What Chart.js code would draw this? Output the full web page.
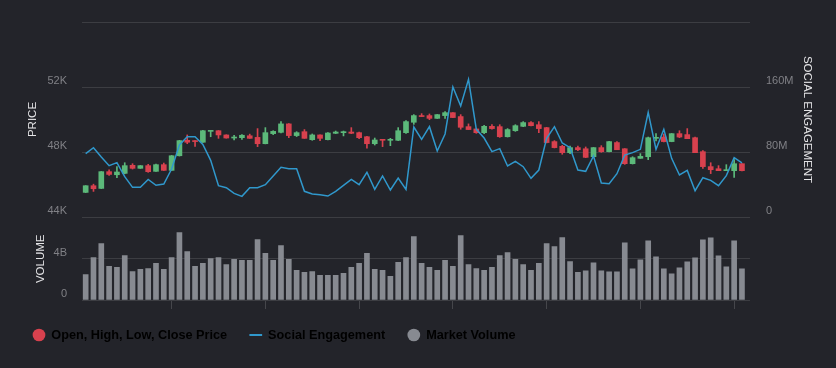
<!DOCTYPE html>
<html>
<head>
<meta charset="utf-8">
<script src="https://cdn.jsdelivr.net/npm/chart.js@4.4.1/dist/chart.umd.min.js"></script>
<style>
  html, body { margin: 0; padding: 0; background: #23242a; }
  #wrap { position: relative; width: 836px; height: 368px; }
  #priceBox { position: absolute; left: 0; top: 0; width: 836px; height: 230px; }
  #volumeBox { position: absolute; left: 0; top: 211px; width: 836px; height: 157px; }
</style>
</head>
<body>
<div id="wrap">
  <div id="priceBox"><canvas id="priceChart"></canvas></div>
  <div id="volumeBox"><canvas id="volumeChart"></canvas></div>
</div>
<script>
// daily candles
var opens = [45515, 45925, 45760, 46790, 46600, 46685, 47180, 46995, 47160, 46810,
  47220, 46870, 47770, 48720, 48680, 48600, 49270, 49310, 49050, 48860,
  48880, 49000, 48900, 48510, 49130, 49210, 49730, 49010, 49250, 48760,
  49050, 48760, 49150, 49190, 49230, 49190, 48940, 48510, 48760, 48720,
  48720, 49190, 49830, 50240, 50240, 50070, 50240, 50420, 50180, 49560,
  49420, 49190, 49580, 49560, 48940, 49310, 49580, 49810, 49680, 49500,
  48640, 48350, 47960, 48270, 48200, 47710, 48270, 48020, 48580, 48200,
  47280, 47610, 47710, 48840, 48920, 48640, 49130, 49070, 48880, 48020,
  47100, 46970, 46850, 46850, 47280];
var highs = [45930, 46020, 46800, 46910, 47100, 47340, 47280, 47170, 47240, 47260,
  47320, 47790, 48720, 49050, 48700, 49330, 49310, 49320, 49060, 49030,
  49070, 49100, 49440, 49500, 49310, 49870, 49750, 49250, 49380, 49110,
  49050, 49190, 49290, 49290, 49500, 49230, 48960, 48860, 48760, 48840,
  49500, 49930, 50300, 50360, 50340, 50310, 50490, 50430, 50300, 49730,
  49420, 49640, 49680, 49680, 49440, 49680, 49870, 49870, 49870, 49520,
  48700, 48410, 48370, 48370, 48310, 48280, 48390, 48650, 48640, 48210,
  47710, 47900, 48920, 49130, 49110, 49140, 49310, 49440, 48920, 48080,
  47340, 47160, 47220, 47530, 47290];
var lows = [45500, 45575, 45750, 46560, 46420, 46660, 46950, 46990, 46750, 46800,
  46860, 46860, 47750, 48510, 48350, 48590, 48940, 48840, 48850, 48740,
  48780, 48840, 48330, 48500, 49070, 49170, 48880, 48950, 48840, 48720,
  48700, 48740, 49130, 48990, 49130, 48820, 48230, 48430, 48330, 48390,
  48700, 49150, 49700, 50180, 49990, 50060, 50070, 50110, 49400, 49380,
  49150, 49130, 49400, 48900, 48920, 49270, 49560, 49600, 49190, 48560,
  48250, 47860, 47900, 48080, 47650, 47700, 47980, 48010, 48140, 47240,
  47260, 47610, 47530, 48680, 48620, 48630, 48880, 48820, 47960, 46990,
  46670, 46850, 46850, 46440, 46840];
var closes = [45925, 45740, 46790, 46620, 46770, 47160, 46995, 47160, 46790, 47220,
  46870, 47770, 48700, 48600, 48640, 49310, 49310, 49050, 48860, 48920,
  49030, 48840, 48510, 49190, 49270, 49730, 49010, 49190, 48840, 49050,
  48840, 49170, 49230, 49230, 49150, 48880, 48510, 48740, 48720, 48760,
  49310, 49870, 50240, 50180, 50070, 50300, 50420, 50120, 49520, 49380,
  49190, 49580, 49440, 48940, 49380, 49620, 49810, 49620, 49440, 48580,
  48270, 47960, 48270, 48140, 47670, 48270, 48020, 48640, 48140, 47280,
  47650, 47730, 48880, 48880, 48640, 49130, 48920, 48820, 47960, 47100,
  46910, 46850, 46910, 47280, 46850];

// social engagement, millions
var engagement = [77.9, 85.3, 73.8, 63.2, 66.9, 49.6, 36.5, 36.5, 46.3, 39,
  40.5, 59.1, 88.6, 98.9, 98.9, 89.4, 69.7, 38.6, 36.1, 29.1,
  25.4, 36.1, 36.1, 39.8, 50.5, 61.1, 59.5, 59.5, 31.6, 28.3,
  27.5, 25.8, 31.6, 39, 46.3, 39.8, 55, 34, 50.5, 33.2,
  48, 34, 110.8, 95.6, 111.2, 81.2, 102.2, 160, 136.6, 169.4,
  107.9, 97.2, 80.4, 84.1, 62.8, 68.5, 61.9, 47.6, 57.8, 96.8,
  111.2, 91.1, 85.3, 57.8, 56.2, 75.1, 41.8, 41, 53.3, 76.3,
  79.2, 83.3, 128.8, 83.3, 107.9, 72.2, 51.7, 57.4, 32.4, 48.4,
  45.1, 38.6, 50.9, 73, 66.5];

// market volume, billions
var volume = [2.48, 4.13, 5.48, 3.26, 3.16, 4.32, 2.77, 2.97, 3.06, 3.55,
  2.97, 4.13, 6.55, 4.71, 3.26, 3.55, 4.03, 4.13, 3.45, 3.94,
  3.84, 3.84, 5.87, 4.52, 3.84, 5.29, 3.94, 2.87, 2.68, 2.77,
  2.39, 2.39, 2.39, 2.58, 3.16, 3.55, 4.52, 2.97, 2.87, 2.29,
  3.65, 4.13, 6.16, 3.55, 3.16, 2.87, 3.84, 3.26, 6.26, 3.45,
  3.06, 2.87, 3.16, 4.32, 4.61, 3.94, 3.45, 2.87, 3.55, 5.48,
  5.19, 6.06, 3.74, 2.68, 2.84, 3.61, 2.84, 2.74, 2.74, 5.55,
  3.03, 3.90, 5.74, 4.19, 3.03, 2.55, 3.13, 3.71, 4.10, 5.84,
  6.03, 4.29, 3.23, 5.74, 3.03];

var priceTicks = [44000, 48000, 52000, 56000];
var priceTickLabels = ['44K', '48K', '52K', ''];
var engagementTicks = [0, 80, 160, 240];
var engagementTickLabels = ['0', '80M', '160M', ''];
var volumeTicks = [0, 4, 8];
var volumeTickLabels = ['0', '4B', ''];
var dateTickIndex = [5, 17, 29, 41, 53, 65, 77];
var legendNames = ['Open, High, Low, Close Price', 'Social Engagement', 'Market Volume'];

var upColor = '#5cb97a';
var downColor = '#d8414e';
var lineColor = '#3098cc';
var volColor = '#878a91';
var gridColor = '#3c3d42';
var tickColor = '#808186';
var titleColor = '#e4e4e6';
var clear = 'rgba(0,0,0,0)';

var X_MIN = -0.47;
var X_MAX = 85.03;

Chart.defaults.font.family = '"Liberation Sans", Arial, sans-serif';
Chart.defaults.animation = false;

var idx = closes.map(function (c, i) { return i; });
var wickData = idx.map(function (i) { return { x: i, y: [lows[i], highs[i]] }; });
var bodyData = idx.map(function (i) { return { x: i, y: [opens[i], closes[i]] }; });
var candleColors = idx.map(function (i) { return closes[i] >= opens[i] ? upColor : downColor; });
var engData = idx.map(function (i) { return { x: i, y: engagement[i] }; });
var volData = idx.map(function (i) { return { x: i, y: volume[i] }; });

function setTicks(values) {
  return function (axis) {
    axis.ticks = values.map(function (v) { return { value: v }; });
  };
}

new Chart(document.getElementById('priceChart'), {
  type: 'bar',
  data: {
    datasets: [{
      type: 'line',
      label: 'Social Engagement',
      data: engData,
      yAxisID: 'yEng',
      borderColor: lineColor,
      borderWidth: 1.5,
      pointRadius: 0,
      tension: 0,
      order: 0
    }, {
      label: 'wick',
      data: wickData,
      yAxisID: 'yPrice',
      backgroundColor: candleColors,
      barThickness: 1,
      grouped: false,
      order: 2
    }, {
      label: 'body',
      data: bodyData,
      yAxisID: 'yPrice',
      backgroundColor: candleColors,
      barThickness: 5,
      minBarLength: 1,
      grouped: false,
      order: 1
    }]
  },
  options: {
    responsive: true,
    maintainAspectRatio: false,
    layout: { padding: { top: 22, bottom: 13, left: 0, right: 0 } },
    plugins: { legend: { display: false }, tooltip: { enabled: false } },
    scales: {
      x: { type: 'linear', display: false, min: X_MIN, max: X_MAX, offset: false },
      yPrice: {
        position: 'left',
        min: 44000,
        max: 56000,
        afterBuildTicks: setTicks(priceTicks),
        afterFit: function (s) { s.width = 82; },
        ticks: {
          color: tickColor, font: { size: 11 }, padding: 0, labelOffset: -6,
          callback: function (v, i) { return priceTickLabels[i]; }
        },
        grid: { color: gridColor, drawTicks: true, tickLength: 15, tickColor: clear },
        border: { display: false },
        title: { display: true, text: 'PRICE', color: titleColor, font: { size: 11.5 }, padding: { top: 26, bottom: 0 } }
      },
      yEng: {
        position: 'right',
        min: 0,
        max: 240,
        afterBuildTicks: setTicks(engagementTicks),
        afterFit: function (s) { s.width = 86; },
        ticks: {
          color: tickColor, font: { size: 11 }, padding: 0, labelOffset: -6,
          callback: function (v, i) { return engagementTickLabels[i]; }
        },
        grid: { drawOnChartArea: false, drawTicks: true, tickLength: 16, tickColor: clear },
        border: { display: false },
        title: { display: true, text: 'SOCIAL ENGAGEMENT', color: titleColor, font: { size: 11.5 }, padding: { top: 22, bottom: 0 } }
      }
    }
  }
});

new Chart(document.getElementById('volumeChart'), {
  type: 'bar',
  data: {
    datasets: [{
      label: 'Market Volume',
      data: volData,
      backgroundColor: volColor,
      barThickness: 5
    }]
  },
  options: {
    responsive: true,
    maintainAspectRatio: false,
    layout: { padding: { top: 0, bottom: 16.65, left: 10.35, right: 86 } },
    plugins: {
      tooltip: { enabled: false },
      legend: {
        position: 'bottom',
        align: 'start',
        onClick: function () {},
        labels: {
          usePointStyle: true,
          boxWidth: 12,
          boxHeight: 9,
          padding: 22.65,
          color: '#9a9ba0',
          font: { size: 12.7, weight: 'bold' },
          generateLabels: function () {
            var cols = [downColor, lineColor, volColor];
            var styles = ['circle', 'line', 'circle'];
            return legendNames.map(function (name, i) {
              return {
                text: name,
                fillStyle: cols[i],
                strokeStyle: cols[i],
                lineWidth: styles[i] === 'line' ? 2 : 0,
                pointStyle: styles[i],
                hidden: false,
                datasetIndex: 0
              };
            });
          }
        }
      }
    },
    scales: {
      x: {
        type: 'linear',
        min: X_MIN,
        max: X_MAX,
        offset: false,
        afterBuildTicks: setTicks(dateTickIndex),
        afterFit: function (s) { s.height = 6; },
        ticks: { display: false },
        grid: { drawOnChartArea: false, drawTicks: true, tickLength: 9, color: gridColor, tickColor: '#45464b' },
        border: { display: false }
      },
      y: {
        position: 'left',
        min: 0,
        max: 8,
        afterBuildTicks: setTicks(volumeTicks),
        afterFit: function (s) { s.width = 71.65; },
        ticks: {
          color: tickColor, font: { size: 11 }, padding: 0, labelOffset: -6,
          callback: function (v, i) { return volumeTickLabels[i]; }
        },
        grid: {
          drawTicks: true,
          tickLength: 15,
          tickColor: clear,
          color: function (ctx) { return ctx.tick && ctx.tick.value === 8 ? clear : gridColor; }
        },
        border: { display: false },
        title: { display: true, text: 'VOLUME', color: titleColor, font: { size: 11.5 }, padding: { top: 23.45, bottom: 0 } }
      }
    }
  }
});
</script>
</body>
</html>
